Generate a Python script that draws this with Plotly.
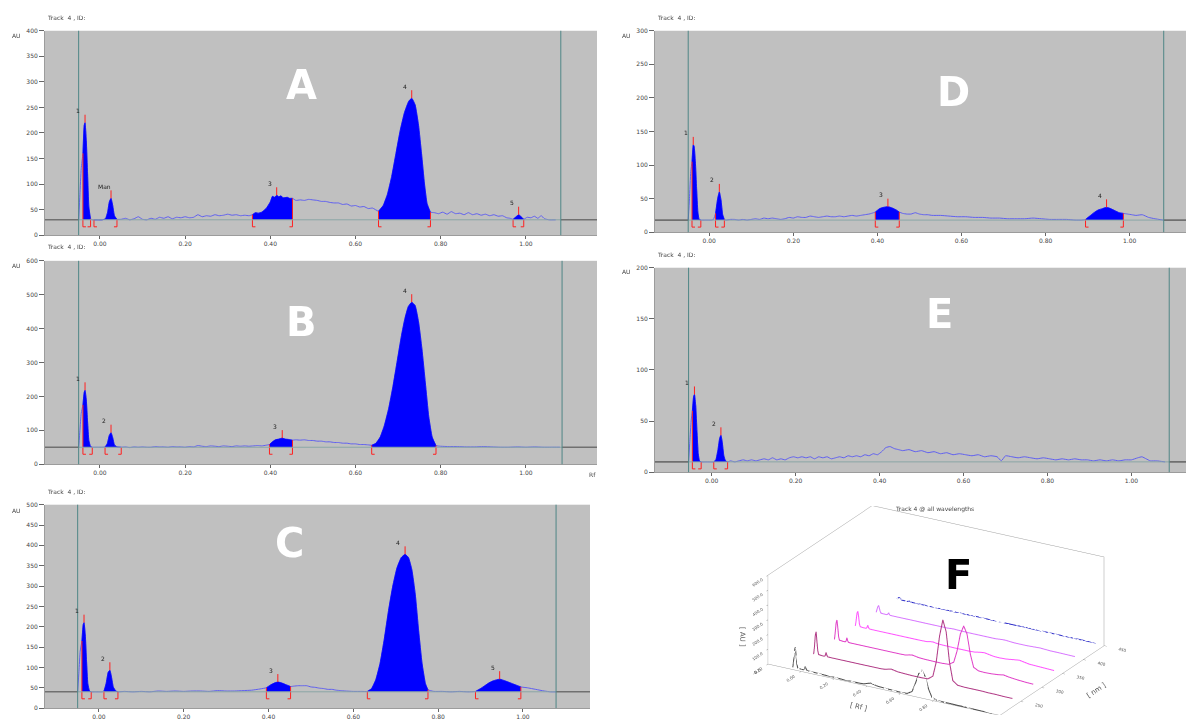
import plotly.graph_objects as go

W, H = 1194, 720
OFF = 8                      # the page body margin shifts the figure by this much
FW, FH = W - OFF, H - OFF    # figure size so that it exactly fills the window

# ---------------- Panel A ----------------
A_rf = [-0.050, -0.047, -0.044, -0.040, -0.037, -0.035, -0.032, -0.029, -0.026, -0.022, -0.018, -0.014,
        -0.005, 0.005, 0.013, 0.018, 0.022, 0.026, 0.030, 0.034, 0.040, 0.05, 0.06, 0.07, 0.08, 0.09,
        0.10, 0.11, 0.12, 0.13, 0.14, 0.15, 0.16, 0.17, 0.18, 0.19, 0.20, 0.21, 0.22, 0.23, 0.24, 0.25,
        0.26, 0.27, 0.28, 0.29, 0.30, 0.31, 0.32, 0.33, 0.34, 0.35, 0.358, 0.365, 0.372, 0.38, 0.39,
        0.40, 0.405, 0.41, 0.415, 0.42, 0.425, 0.43, 0.44, 0.445, 0.452, 0.46, 0.47, 0.48, 0.49, 0.50,
        0.51, 0.52, 0.53, 0.54, 0.55, 0.56, 0.57, 0.58, 0.59, 0.60, 0.61, 0.62, 0.63, 0.64, 0.654,
        0.665, 0.675, 0.685, 0.695, 0.705, 0.715, 0.725, 0.732, 0.740, 0.748, 0.755, 0.762, 0.768,
        0.776, 0.785, 0.795, 0.805, 0.815, 0.825, 0.835, 0.845, 0.855, 0.865, 0.875, 0.885, 0.895,
        0.905, 0.915, 0.925, 0.935, 0.945, 0.955, 0.963, 0.970, 0.977, 0.983, 0.989, 0.995, 1.003,
        1.012, 1.020, 1.028, 1.036, 1.044, 1.055, 1.070]
A_au = [30, 80, 130, 160, 215, 220, 185, 120, 55, 32, 30, 30,
        30, 30, 32, 45, 65, 72, 58, 38, 31, 31, 33, 30, 32, 36,
        31, 30, 33, 31, 35, 33, 36, 32, 35, 34, 36, 34, 35, 40, 36, 38,
        37, 40, 38, 39, 41, 39, 40, 38, 39, 38, 40, 44, 43, 45, 52,
        65, 76, 74, 78, 75, 77, 73, 74, 72, 72, 68, 69, 68, 70, 69,
        68, 66, 66, 64, 63, 63, 60, 61, 57, 58, 55, 56, 52, 53, 47,
        58, 80, 115, 160, 205, 240, 262, 268, 255, 215, 160, 100, 62,
        45, 44, 42, 45, 41, 46, 42, 43, 40, 44, 40, 42, 39,
        41, 38, 40, 37, 38, 34, 33, 31, 36, 40, 36, 31, 35,
        34, 37, 33, 38, 32, 30, 30]
A_base = 30
A_start = [-0.040, -0.014, 0.358, 0.654, 0.970]
A_end = [-0.022, 0.040, 0.452, 0.776, 0.995]
A_names = ["1", "Man", "3", "4", "5"]
A_track = [-0.050, 1.082]

# ---------------- Panel B ----------------
B_rf = [-0.050, -0.047, -0.044, -0.040, -0.037, -0.035, -0.032, -0.029, -0.026, -0.022, -0.018, -0.012,
        -0.005, 0.005, 0.012, 0.017, 0.022, 0.026, 0.030, 0.034, 0.040, 0.05, 0.06, 0.07, 0.08, 0.09,
        0.10, 0.11, 0.12, 0.13, 0.14, 0.15, 0.16, 0.17, 0.18, 0.19, 0.20, 0.21, 0.22, 0.23, 0.24, 0.25,
        0.26, 0.27, 0.28, 0.29, 0.30, 0.31, 0.32, 0.33, 0.34, 0.35, 0.36, 0.37, 0.38, 0.39, 0.398,
        0.405, 0.412, 0.42, 0.428, 0.435, 0.443, 0.452, 0.46, 0.47, 0.48, 0.49, 0.50, 0.51, 0.52,
        0.53, 0.54, 0.55, 0.56, 0.57, 0.58, 0.59, 0.60, 0.61, 0.62, 0.63, 0.638, 0.648, 0.658, 0.668,
        0.678, 0.688, 0.698, 0.708, 0.716, 0.724, 0.732, 0.740, 0.748, 0.756, 0.764, 0.772, 0.780,
        0.789, 0.80, 0.82, 0.84, 0.86, 0.88, 0.90, 0.92, 0.94, 0.96, 0.98, 1.00, 1.02, 1.04, 1.06, 1.08]
B_au = [50, 100, 150, 175, 212, 218, 190, 125, 70, 52, 50, 50,
        50, 50, 51, 60, 85, 93, 78, 57, 51, 50, 51, 49, 51, 50,
        51, 50, 50, 52, 51, 51, 50, 52, 51, 51, 50, 52, 51, 55, 53, 52,
        54, 53, 52, 54, 53, 52, 54, 53, 54, 53, 54, 55, 54, 56, 58,
        66, 72, 74, 77, 74, 73, 71, 72, 71, 72, 70, 70, 68, 68,
        66, 66, 64, 64, 62, 62, 60, 60, 58, 58, 57, 56, 62, 80, 115,
        165, 230, 305, 380, 430, 465, 478, 468, 420, 340, 240, 140, 80,
        55, 53, 52, 52, 51, 51, 52, 51, 50, 50, 51, 50, 51, 50, 50, 50]
B_base = 50
B_start = [-0.040, 0.012, 0.398, 0.638]
B_end = [-0.018, 0.050, 0.452, 0.789]
B_names = ["1", "2", "3", "4"]
B_track = [-0.050, 1.085]

# ---------------- Panel C ----------------
C_rf = [-0.050, -0.047, -0.044, -0.040, -0.037, -0.035, -0.032, -0.029, -0.026, -0.022, -0.018, -0.010,
        0.000, 0.008, 0.012, 0.017, 0.022, 0.026, 0.030, 0.034, 0.040, 0.045, 0.06, 0.08, 0.10, 0.12,
        0.14, 0.16, 0.18, 0.20, 0.22, 0.24, 0.26, 0.28, 0.30, 0.32, 0.34, 0.36, 0.38, 0.395, 0.405,
        0.415, 0.422, 0.43, 0.44, 0.452, 0.46, 0.47, 0.48, 0.49, 0.50, 0.51, 0.52, 0.53, 0.54, 0.55,
        0.56, 0.57, 0.58, 0.60, 0.62, 0.633, 0.643, 0.653, 0.663, 0.673, 0.683, 0.693, 0.703, 0.713,
        0.722, 0.730, 0.738, 0.746, 0.754, 0.762, 0.770, 0.776, 0.79, 0.81, 0.83, 0.85, 0.87, 0.888,
        0.90, 0.91, 0.92, 0.93, 0.945, 0.96, 0.975, 0.995, 1.01, 1.03, 1.05, 1.065, 1.078]
C_au = [40, 90, 140, 165, 205, 210, 180, 115, 60, 42, 40, 40,
        40, 40, 42, 60, 88, 93, 75, 52, 42, 40, 41, 40, 41, 40,
        42, 41, 42, 41, 42, 42, 41, 43, 42, 42, 43, 44, 47, 50, 57,
        62, 64, 62, 58, 53, 54, 55, 55, 55, 52, 51, 49, 48, 46, 46,
        44, 43, 42, 41, 41, 41, 48, 70, 110, 170, 240, 300, 345, 370,
        378, 370, 340, 280, 190, 110, 60, 45, 41, 41, 40, 41, 40, 41,
        48, 55, 62, 67, 71, 66, 60, 52, 50, 46, 42, 40, 40]
C_base = 40
C_start = [-0.040, 0.012, 0.395, 0.633, 0.888]
C_end = [-0.018, 0.045, 0.452, 0.776, 0.995]
C_names = ["1", "2", "3", "4", "5"]
C_track = [-0.050, 1.078]

# ---------------- Panel D ----------------
D_rf = [-0.050, -0.047, -0.044, -0.041, -0.038, -0.036, -0.033, -0.030, -0.027, -0.024, -0.020, -0.010,
        -0.002, 0.005, 0.010, 0.015, 0.020, 0.024, 0.028, 0.032, 0.036, 0.040, 0.05, 0.06, 0.07, 0.08,
        0.09, 0.10, 0.11, 0.12, 0.13, 0.14, 0.15, 0.16, 0.17, 0.18, 0.19, 0.20, 0.21, 0.22, 0.23, 0.24,
        0.25, 0.26, 0.27, 0.28, 0.29, 0.30, 0.31, 0.32, 0.33, 0.34, 0.35, 0.36, 0.37, 0.38, 0.386,
        0.395, 0.405, 0.415, 0.425, 0.435, 0.445, 0.452, 0.46, 0.47, 0.48, 0.49, 0.50, 0.51, 0.52,
        0.53, 0.55, 0.57, 0.59, 0.61, 0.63, 0.65, 0.67, 0.69, 0.71, 0.73, 0.75, 0.77, 0.79, 0.81, 0.83,
        0.85, 0.87, 0.885, 0.895, 0.905, 0.915, 0.925, 0.935, 0.945, 0.955, 0.965, 0.975, 0.985, 0.995,
        1.005, 1.015, 1.030, 1.045, 1.060, 1.080]
D_au = [18, 50, 90, 105, 130, 128, 105, 65, 30, 19, 18, 18,
        18, 18, 19, 28, 50, 60, 48, 26, 19, 18, 19, 19, 18, 19,
        18, 19, 20, 19, 21, 20, 21, 20, 19, 20, 22, 21, 23, 22, 22, 24,
        23, 22, 23, 24, 23, 23, 24, 23, 24, 25, 24, 25, 26, 27, 28,
        30, 35, 37, 38, 36, 33, 30, 28, 27, 27, 29, 27, 26, 26,
        25, 25, 24, 23, 23, 22, 22, 21, 21, 20, 20, 20, 21, 20, 19, 19,
        19, 18, 18, 19, 24, 29, 33, 35, 37, 35, 32, 29, 28, 27,
        26, 25, 26, 22, 20, 18]
D_base = 18
D_start = [-0.041, 0.015, 0.395, 0.895]
D_end = [-0.020, 0.036, 0.452, 0.985]
D_names = ["1", "2", "3", "4"]
D_track = [-0.050, 1.081]

# ---------------- Panel E ----------------
E_rf = [-0.055, -0.052, -0.049, -0.046, -0.043, -0.041, -0.038, -0.035, -0.032, -0.029, -0.025, -0.015,
        -0.005, 0.005, 0.010, 0.015, 0.019, 0.022, 0.025, 0.029, 0.033, 0.038, 0.045, 0.055, 0.065,
        0.075, 0.085, 0.095, 0.105, 0.115, 0.125, 0.135, 0.145, 0.155, 0.165, 0.175, 0.185, 0.195,
        0.205, 0.215, 0.225, 0.235, 0.245, 0.255, 0.265, 0.275, 0.285, 0.295, 0.305, 0.315, 0.325,
        0.335, 0.345, 0.355, 0.365, 0.375, 0.385, 0.395, 0.405, 0.415, 0.425, 0.435, 0.445, 0.455,
        0.470, 0.485, 0.500, 0.515, 0.530, 0.545, 0.560, 0.575, 0.590, 0.605, 0.620, 0.635, 0.650,
        0.665, 0.680, 0.690, 0.700, 0.715, 0.730, 0.745, 0.760, 0.775, 0.790, 0.805, 0.820, 0.835,
        0.850, 0.865, 0.880, 0.895, 0.910, 0.925, 0.940, 0.955, 0.970, 0.985, 1.000, 1.015, 1.025,
        1.035, 1.045, 1.060, 1.080]
E_au = [10, 30, 50, 60, 74, 76, 65, 40, 18, 11, 10, 10,
        10, 10, 12, 22, 33, 36, 30, 16, 11, 10, 11, 10, 11,
        12, 11, 12, 11, 12, 13, 12, 14, 12, 13, 12, 14, 15,
        14, 15, 14, 15, 13, 15, 14, 15, 13, 14, 15, 14, 16,
        15, 16, 15, 17, 16, 18, 17, 20, 24, 25, 23, 22, 21,
        22, 20, 21, 19, 20, 18, 19, 17, 18, 17, 16, 17, 15,
        16, 15, 11, 16, 15, 14, 15, 14, 13, 14, 13, 12, 13,
        12, 13, 12, 12, 11, 12, 11, 12, 11, 12, 12, 14, 15,
        13, 11, 11, 10]
E_base = 10
E_start = [-0.046, 0.005]
E_end = [-0.025, 0.038]
E_names = ["1", "2"]
E_track = [-0.055, 1.090]

# ---------------- Panel F (3D, all wavelengths) ----------------
F_rf = [-0.05, -0.045, -0.04, -0.035, -0.03, -0.025, -0.02, 0.0, 0.015, 0.02, 0.025, 0.03, 0.035, 0.05,
        0.1, 0.15, 0.2, 0.25, 0.3, 0.35, 0.38, 0.40, 0.42, 0.44, 0.46, 0.5, 0.55, 0.6, 0.64, 0.67,
        0.69, 0.71, 0.73, 0.75, 0.77, 0.79, 0.82, 0.86, 0.90, 0.94, 0.97, 1.0, 1.05, 1.1, 1.15]
F_nm = [200, 250, 300, 350, 400, 450]
F_au_200 = [15, 60, 130, 155, 100, 40, 18, 15, 15, 20, 40, 25, 16, 14, 12, 10, 10, 8, 8, 8, 10, 18, 25, 20,
            15, 12, 10, 8, 10, 30, 90, 160, 190, 150, 70, 20, 8, 6, 6, 5, 5, 4, 3, 2, 2]
F_au_250 = [10, 60, 140, 165, 100, 40, 15, 12, 12, 18, 40, 22, 13, 12, 12, 12, 12, 12, 12, 12, 14, 20, 25,
            20, 16, 14, 12, 12, 14, 40, 140, 320, 435, 360, 160, 40, 15, 12, 12, 12, 12, 10, 10, 8, 8]
F_au_300 = [15, 70, 130, 150, 100, 40, 18, 15, 15, 22, 45, 25, 16, 15, 15, 15, 15, 15, 15, 15, 16, 22, 26,
            22, 18, 16, 15, 15, 18, 40, 120, 240, 300, 250, 120, 35, 18, 16, 18, 22, 28, 22, 16, 12, 10]
F_au_350 = [12, 50, 100, 115, 80, 30, 14, 12, 12, 18, 35, 20, 13, 12, 12, 12, 12, 12, 12, 12, 13, 18, 20,
            16, 14, 13, 12, 12, 12, 14, 18, 22, 24, 20, 16, 13, 12, 14, 20, 26, 20, 14, 12, 10, 8]
F_au_400 = [10, 30, 50, 60, 40, 20, 11, 10, 10, 14, 25, 16, 10, 10, 10, 10, 10, 10, 10, 10, 10, 12, 13,
            12, 11, 10, 10, 10, 10, 10, 12, 14, 15, 13, 11, 10, 10, 10, 12, 14, 12, 10, 10, 9, 8]
F_au_450 = [5, 12, 18, 20, 14, 8, 5, 5, 5, 7, 10, 7, 5, 5, 5, 5, 5, 5, 5, 5, 5, 6, 6, 6, 5, 5, 5, 5, 5, 5,
            6, 7, 7, 6, 5, 5, 5, 5, 5, 5, 5, 5, 5, 5, 5]
F_colors = ["#4a4a4a", "#b03a86", "#e040c8", "#ff55ff", "#d878ff", "#2c2cc8"]

RF_TICKS = [0.0, 0.2, 0.4, 0.6, 0.8, 1.0]
RF_TICKTEXT = ["0.00", "0.20", "0.40", "0.60", "0.80", "1.00"]


def pxx(x):
    return (x - OFF) / FW


def pxy(y):
    return 1 - (y - OFF) / FH


panels = [
    dict(rf=A_rf, au=A_au, base=A_base, starts=A_start, ends=A_end, names=A_names, track=A_track,
         xr=[-0.129, 1.167], yr=[0, 400], dy=50, xd=[45, 597], yd=[27, 234],
         letter="A", lpos=(301, 82), lcol="white", title_y=14, au_pos=(16, 32), rf_lab=None),
    dict(rf=B_rf, au=B_au, base=B_base, starts=B_start, ends=B_end, names=B_names, track=B_track,
         xr=[-0.129, 1.167], yr=[0, 600], dy=100, xd=[45, 597], yd=[260, 466],
         letter="B", lpos=(301, 322), lcol="white", title_y=245, au_pos=(16, 265), rf_lab=(592, 476)),
    dict(rf=C_rf, au=C_au, base=C_base, starts=C_start, ends=C_end, names=C_names, track=C_track,
         xr=[-0.127, 1.158], yr=[0, 500], dy=50, xd=[45, 590], yd=[507, 713],
         letter="C", lpos=(289, 546), lcol="white", title_y=494, au_pos=(16, 513), rf_lab=None),
    dict(rf=D_rf, au=D_au, base=D_base, starts=D_start, ends=D_end, names=D_names, track=D_track,
         xr=[-0.129, 1.153], yr=[0, 300], dy=50, xd=[655, 1194], yd=[27, 231],
         letter="D", lpos=(953, 89), lcol="white", title_y=14, au_pos=(627, 32), rf_lab=(1190, 241)),
    dict(rf=E_rf, au=E_au, base=E_base, starts=E_start, ends=E_end, names=E_names, track=E_track,
         xr=[-0.135, 1.149], yr=[0, 200], dy=50, xd=[655, 1194], yd=[267, 474],
         letter="E", lpos=(939, 314), lcol="white", title_y=254, au_pos=(627, 271), rf_lab=None),
]

TXT = dict(family="DejaVu Sans", size=6, color="#444444")
RED = "#ff2020"

fig = go.Figure()
shapes = []
annotations = []
layout_axes = {}


def note(x, y, text, font, xanchor="center", yanchor="middle"):
    annotations.append(dict(x=pxx(x), y=pxy(y), xref="paper", yref="paper", text=text,
                            showarrow=False, xanchor=xanchor, yanchor=yanchor, font=font))


for n, P in enumerate(panels, start=1):
    xa = "x" if n == 1 else f"x{n}"
    ya = "y" if n == 1 else f"y{n}"
    rf, au, base = P["rf"], P["au"], P["base"]

    fig.add_trace(go.Scatter(x=rf, y=au, xaxis=xa, yaxis=ya, mode="lines",
                             line=dict(color="#5f5ff0", width=1, shape="spline", smoothing=0.4),
                             hoverinfo="skip", showlegend=False))
    for s, e, name in zip(P["starts"], P["ends"], P["names"]):
        i0, i1 = rf.index(s), rf.index(e)
        xs, ys = rf[i0:i1 + 1], au[i0:i1 + 1]
        fig.add_trace(go.Scatter(x=xs, y=[base] * len(xs), xaxis=xa, yaxis=ya, mode="lines",
                                 line=dict(width=0, color="rgba(0,0,0,0)"), hoverinfo="skip",
                                 showlegend=False))
        fig.add_trace(go.Scatter(x=xs, y=ys, xaxis=xa, yaxis=ya, mode="lines", fill="tonexty",
                                 fillcolor="#0000ff",
                                 line=dict(color="#0000ff", width=0.6, shape="spline", smoothing=0.4),
                                 hoverinfo="skip", showlegend=False))
        for xv, yv in ((s, au[i0]), (e, au[i1])):
            shapes.append(dict(type="line", xref=xa, yref=ya, x0=xv, x1=xv, y0=base, y1=yv,
                               line=dict(color=RED, width=1)))
        for xv, foot in ((s, 3), (e, -3)):
            shapes.append(dict(type="line", xref=xa, yref=ya, x0=xv, x1=xv, ysizemode="pixel",
                               yanchor=base, y0=0, y1=-7, line=dict(color=RED, width=1)))
            shapes.append(dict(type="line", xref=xa, yref=ya, xsizemode="pixel", xanchor=xv,
                               x0=0, x1=foot, ysizemode="pixel", yanchor=base, y0=-7, y1=-7,
                               line=dict(color=RED, width=1)))
        k = max(range(i0, i1 + 1), key=lambda j: au[j])
        shapes.append(dict(type="line", xref=xa, yref=ya, x0=rf[k], x1=rf[k], ysizemode="pixel",
                           yanchor=au[k], y0=0, y1=8, line=dict(color=RED, width=1)))
        annotations.append(dict(x=rf[k], y=au[k], xref=xa, yref=ya, text=name, showarrow=False,
                                xshift=-7, yshift=12, font=dict(family="DejaVu Sans", size=6,
                                                                color="#222")))

    t0, t1 = P["track"]
    shapes.append(dict(type="line", xref=xa, yref=ya, x0=P["xr"][0], x1=t0, y0=base, y1=base,
                       line=dict(color="#707070", width=1.6)))
    shapes.append(dict(type="line", xref=xa, yref=ya, x0=t1, x1=P["xr"][1], y0=base, y1=base,
                       line=dict(color="#707070", width=1.6)))
    shapes.append(dict(type="line", xref=xa, yref=ya, x0=t0, x1=t1, y0=base, y1=base,
                       line=dict(color="#8aa6a6", width=1)))
    for tv in (t0, t1):
        shapes.append(dict(type="line", xref=xa, yref=f"{ya} domain", x0=tv, x1=tv, y0=0, y1=1,
                           line=dict(color="#4f8686", width=1)))

    xd = [pxx(P["xd"][0]), min(1.0, pxx(P["xd"][1]))]
    yd = [pxy(P["yd"][1]), pxy(P["yd"][0])]
    xname = "xaxis" if n == 1 else f"xaxis{n}"
    yname = "yaxis" if n == 1 else f"yaxis{n}"
    layout_axes[xname] = dict(domain=xd, anchor=ya, range=P["xr"], tickvals=RF_TICKS,
                              ticktext=RF_TICKTEXT, ticks="outside", ticklen=3, tickcolor="#666",
                              tickfont=TXT, showgrid=False, zeroline=False, showline=True,
                              linecolor="#9c9c9c", linewidth=1)
    yt = list(range(P["yr"][0], P["yr"][1] + 1, P["dy"]))
    layout_axes[yname] = dict(domain=yd, anchor=xa, range=P["yr"], tickvals=yt,
                              ticktext=[str(v) for v in yt], ticks="outside", ticklen=5,
                              tickcolor="#666", tickfont=TXT, showgrid=False, zeroline=False,
                              showline=True, linecolor="#9c9c9c", linewidth=1)

    note(P["xd"][0], P["title_y"], "Track  4 , ID:", TXT, xanchor="left")
    note(P["au_pos"][0], P["au_pos"][1], "AU", TXT)
    if P["rf_lab"]:
        note(P["rf_lab"][0], P["rf_lab"][1], "Rf", TXT)
    note(P["lpos"][0], P["lpos"][1], f"<b>{P['letter']}</b>",
         dict(family="DejaVu Sans", size=40, color=P["lcol"]))

# ---------------- 3D panel F ----------------
F_series = [F_au_200, F_au_250, F_au_300, F_au_350, F_au_400, F_au_450]
for nm, vals, col in zip(F_nm, F_series, F_colors):
    fig.add_trace(go.Scatter3d(x=F_rf, y=[nm] * len(F_rf), z=vals, mode="lines",
                               line=dict(color=col, width=2), hoverinfo="skip", showlegend=False,
                               scene="scene"))

F3 = dict(family="DejaVu Sans", size=7, color="#555")
ax3 = dict(showgrid=False, showbackground=False, showline=True, linecolor="#a0a0a0",
           zeroline=False, showspikes=False, mirror=True, ticks="outside", tickcolor="#888",
           ticklen=3, tickfont=F3)
fig.update_layout(scene=dict(
    domain=dict(x=[pxx(736), pxx(1136)], y=[0, pxy(508)]),
    xaxis=dict(ax3, range=[-0.2, 1.2], tickvals=[-0.2] + RF_TICKS[:5],
               ticktext=["-0.20"] + RF_TICKTEXT[:5], title=dict(text="[ Rf ]", font=F3)),
    yaxis=dict(ax3, range=[200, 450], tickvals=[250, 300, 350, 400, 450],
               title=dict(text="[ nm ]", font=F3)),
    zaxis=dict(ax3, range=[0, 600], tickvals=[0, 100, 200, 300, 400, 500, 600],
               ticktext=["0.0", "100.0", "200.0", "300.0", "400.0", "500.0", "600.0"],
               title=dict(text="[ AU ]", font=F3)),
    aspectmode="manual", aspectratio=dict(x=2.56, y=2.0, z=0.92),
    camera=dict(projection=dict(type="orthographic"), eye=dict(x=0.92, y=-1.6, z=0.77),
                up=dict(x=0, y=0, z=1), center=dict(x=0, y=0, z=0)),
    bgcolor="rgba(0,0,0,0)"))

note(935, 511, "Track 4 @ all wavelengths", TXT)
note(958, 578, "<b>F</b>", dict(family="DejaVu Sans", size=40, color="black"))

fig.update_layout(**layout_axes)
fig.update_layout(width=FW, height=FH, margin=dict(l=0, r=0, t=0, b=0), paper_bgcolor="white",
                  plot_bgcolor="#c0c0c0", showlegend=False, shapes=shapes,
                  annotations=annotations, font=dict(family="DejaVu Sans"))
fig.write_html("out.html")
